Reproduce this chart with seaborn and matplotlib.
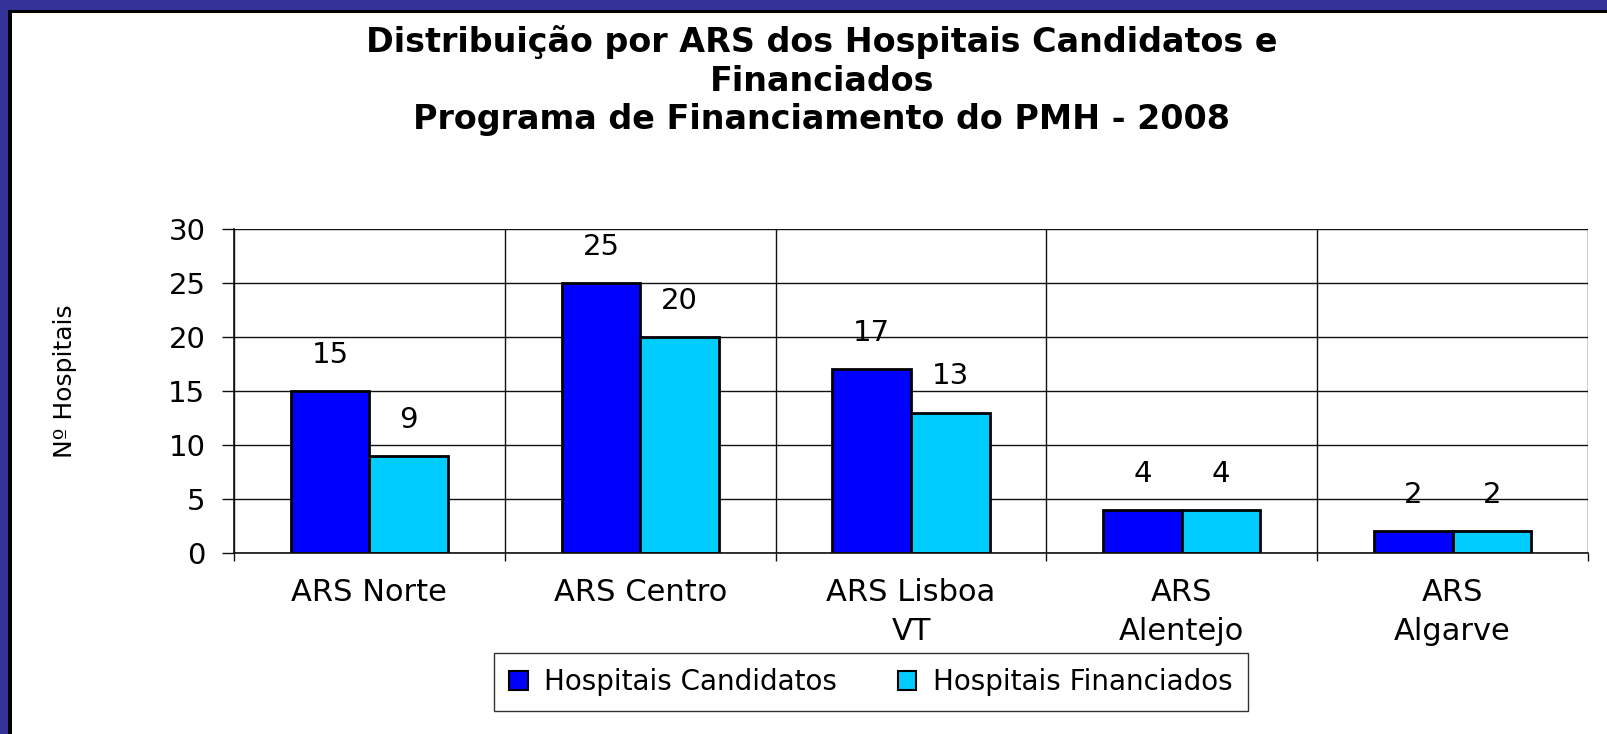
import pandas as pd
import seaborn as sns
import matplotlib.pyplot as plt
from matplotlib.patches import Rectangle

# data
regioes = ['ARS Norte', 'ARS Centro', 'ARS Lisboa\nVT', 'ARS\nAlentejo', 'ARS\nAlgarve']
candidatos = [15, 25, 17, 4, 2]
financiados = [9, 20, 13, 4, 2]
series = ['Hospitais Candidatos', 'Hospitais Financiados']
cores = ['#0000FF', '#00CCFF']
y_ticks = [0, 5, 10, 15, 20, 25, 30]

df = pd.DataFrame({
    'ARS': regioes * 2,
    'Valor': candidatos + financiados,
    'Tipo': [series[0]] * len(regioes) + [series[1]] * len(regioes),
})

sns.set_theme(style='white')
plt.rcParams['font.family'] = ['DejaVu Sans']
plt.rcParams['text.color'] = 'black'
plt.rcParams['xtick.color'] = 'black'
plt.rcParams['ytick.color'] = 'black'

W, H = 1608, 734
fig = plt.figure(figsize=(W / 100, H / 100), dpi=100)
ax = fig.add_axes([234 / W, 1 - 553 / H, (1588 - 234) / W, (553 - 229) / H])

sns.barplot(data=df, x='ARS', y='Valor', hue='Tipo', palette=cores, width=0.58,
            edgecolor='black', linewidth=2.0, saturation=1, ax=ax, legend=False)

# value labels above the bars
for cont in ax.containers:
    ax.bar_label(cont, padding=16, fontsize=21, color='black')

ax.set_ylim(0, 30)
ax.set_xlim(-0.5, len(regioes) - 0.5)
ax.set_yticks(y_ticks)
ax.set_xlabel('')
ax.set_ylabel('')

# grid: horizontal lines + category separators
ax.set_xticks([i - 0.5 for i in range(len(regioes) + 1)], minor=True)
ax.grid(True, axis='y', color='#111111', linewidth=1.0)
ax.grid(True, axis='x', which='minor', color='#111111', linewidth=1.0)
ax.set_axisbelow(True)
ax.tick_params(axis='x', which='major', length=0, pad=18, labelsize=22)
ax.tick_params(axis='x', which='minor', length=6, width=1, color='#111111', bottom=True)
ax.tick_params(axis='y', length=8.6, width=1, color='#111111', left=True, pad=12, labelsize=21)
for lab in ax.get_xticklabels():
    lab.set_linespacing(1.42)

for s in ['top', 'right']:
    ax.spines[s].set_visible(False)
for s in ['left', 'bottom']:
    ax.spines[s].set_color('#111111')
    ax.spines[s].set_linewidth(1.2)

# legend below
handles = [Rectangle((0, 0), 1, 1, facecolor=c, edgecolor='black', linewidth=1.5) for c in cores]
leg = ax.legend(handles, series, loc='center', bbox_to_anchor=(871 / W, 1 - 682 / H),
                bbox_transform=fig.transFigure, ncol=2, fontsize=20, frameon=True,
                fancybox=False, shadow=False, handlelength=0.65, handleheight=0.65,
                handletextpad=0.6, columnspacing=2.2, borderpad=0.55, borderaxespad=0)
leg.get_frame().set_edgecolor('black')
leg.get_frame().set_linewidth(1.0)

# titles
fig.text(822 / W, 1 - 25 / H,
         'Distribuição por ARS dos Hospitais Candidatos e\nFinanciados\n'
         'Programa de Financiamento do PMH - 2008',
         ha='center', va='top', fontsize=24, fontweight='bold', linespacing=1.22)
fig.text(65 / W, 1 - 381 / H, 'Nº Hospitais', rotation=90, ha='center', va='center',
         fontsize=18)

# slide frame (navy + black on left and top)
fig.add_artist(Rectangle((0, 0), 8 / W, 1, transform=fig.transFigure,
                         facecolor='#333399', edgecolor='none'))
fig.add_artist(Rectangle((8 / W, 0), 4 / W, 1 - 10 / H, transform=fig.transFigure,
                         facecolor='black', edgecolor='none'))
fig.add_artist(Rectangle((0, 1 - 10 / H), 1, 10 / H, transform=fig.transFigure,
                         facecolor='#333399', edgecolor='none'))
fig.add_artist(Rectangle((8 / W, 1 - 13 / H), 1, 3 / H, transform=fig.transFigure,
                         facecolor='black', edgecolor='none'))

fig.savefig('out.png', dpi=100, facecolor='white')
